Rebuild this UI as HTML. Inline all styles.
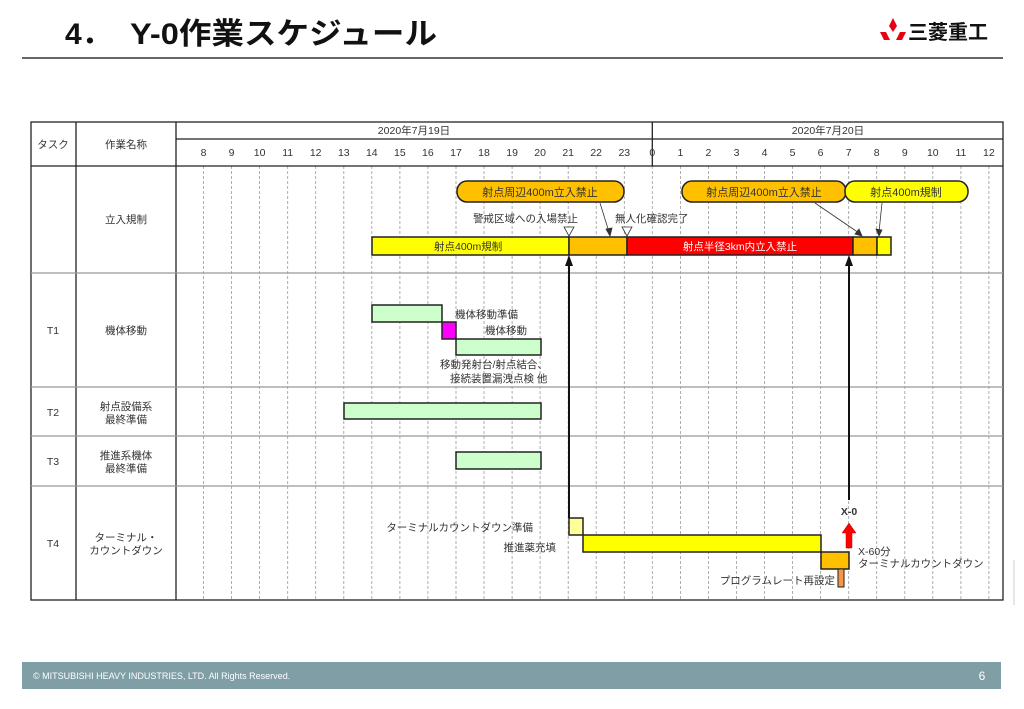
<!DOCTYPE html>
<html><head><meta charset="utf-8"><style>
html,body{margin:0;padding:0;background:#fff;}
svg{display:block;font-family:"Liberation Sans","Noto Sans CJK JP",sans-serif;}
</style></head><body>
<svg width="1024" height="709" viewBox="0 0 1024 709" xmlns="http://www.w3.org/2000/svg">
<text x="65" y="44" font-size="30" font-weight="bold" fill="#111">4．</text>
<text x="130" y="44" font-size="30" font-weight="bold" fill="#111" textLength="307" lengthAdjust="spacingAndGlyphs">Y-0作業スケジュール</text>
<g fill="#e60012"><polygon points="893,18 889,26 893,32 897,26"/><polygon points="886,32 880,32 884,40 890,40"/><polygon points="900,32 906,32 902,40 896,40"/></g>
<text x="908" y="39" font-size="20" font-weight="bold" fill="#111">三菱重工</text>
<line x1="22" y1="58" x2="1003" y2="58" stroke="#333" stroke-width="1.5"/>

<g stroke="#999" stroke-width="0.8" stroke-dasharray="3,2">
<line x1="203.5" y1="166" x2="203.5" y2="600"/><line x1="231.6" y1="166" x2="231.6" y2="600"/><line x1="259.6" y1="166" x2="259.6" y2="600"/><line x1="287.7" y1="166" x2="287.7" y2="600"/><line x1="315.7" y1="166" x2="315.7" y2="600"/><line x1="343.8" y1="166" x2="343.8" y2="600"/><line x1="371.8" y1="166" x2="371.8" y2="600"/><line x1="399.9" y1="166" x2="399.9" y2="600"/><line x1="427.9" y1="166" x2="427.9" y2="600"/><line x1="456" y1="166" x2="456" y2="600"/><line x1="484" y1="166" x2="484" y2="600"/><line x1="512.1" y1="166" x2="512.1" y2="600"/><line x1="540.1" y1="166" x2="540.1" y2="600"/><line x1="568.2" y1="166" x2="568.2" y2="600"/><line x1="596.2" y1="166" x2="596.2" y2="600"/><line x1="624.3" y1="166" x2="624.3" y2="600"/><line x1="652.3" y1="166" x2="652.3" y2="600"/><line x1="680.4" y1="166" x2="680.4" y2="600"/><line x1="708.4" y1="166" x2="708.4" y2="600"/><line x1="736.5" y1="166" x2="736.5" y2="600"/><line x1="764.5" y1="166" x2="764.5" y2="600"/><line x1="792.6" y1="166" x2="792.6" y2="600"/><line x1="820.6" y1="166" x2="820.6" y2="600"/><line x1="848.7" y1="166" x2="848.7" y2="600"/><line x1="876.7" y1="166" x2="876.7" y2="600"/><line x1="904.8" y1="166" x2="904.8" y2="600"/><line x1="932.8" y1="166" x2="932.8" y2="600"/><line x1="960.9" y1="166" x2="960.9" y2="600"/><line x1="988.9" y1="166" x2="988.9" y2="600"/>
</g>

<g stroke="#222" stroke-width="1.3" fill="none">
<rect x="31" y="122" width="972" height="478"/>
<line x1="76" y1="122" x2="76" y2="600"/><line x1="176" y1="122" x2="176" y2="600"/>
<line x1="176" y1="139" x2="1003" y2="139"/><line x1="652.3" y1="122" x2="652.3" y2="166"/>
<line x1="31" y1="166" x2="1003" y2="166"/>
</g>
<g stroke="#999" stroke-width="1.3">
<line x1="31" y1="273" x2="1003" y2="273"/><line x1="31" y1="387" x2="1003" y2="387"/><line x1="31" y1="436" x2="1003" y2="436"/><line x1="31" y1="486" x2="1003" y2="486"/>
</g>

<g font-size="10.5" fill="#333" text-anchor="middle">
<text x="53" y="148">タスク</text><text x="126" y="148">作業名称</text>
<text x="414" y="134">2020年7月19日</text><text x="828" y="134">2020年7月20日</text>
<text x="203.5" y="156">8</text><text x="231.6" y="156">9</text><text x="259.6" y="156">10</text><text x="287.7" y="156">11</text><text x="315.7" y="156">12</text><text x="343.8" y="156">13</text><text x="371.8" y="156">14</text><text x="399.9" y="156">15</text><text x="427.9" y="156">16</text><text x="456" y="156">17</text><text x="484" y="156">18</text><text x="512.1" y="156">19</text><text x="540.1" y="156">20</text><text x="568.2" y="156">21</text><text x="596.2" y="156">22</text><text x="624.3" y="156">23</text><text x="652.3" y="156">0</text><text x="680.4" y="156">1</text><text x="708.4" y="156">2</text><text x="736.5" y="156">3</text><text x="764.5" y="156">4</text><text x="792.6" y="156">5</text><text x="820.6" y="156">6</text><text x="848.7" y="156">7</text><text x="876.7" y="156">8</text><text x="904.8" y="156">9</text><text x="932.8" y="156">10</text><text x="960.9" y="156">11</text><text x="988.9" y="156">12</text>
<text x="126" y="223">立入規制</text>
<text x="53" y="334">T1</text><text x="126" y="334">機体移動</text>
<text x="53" y="416">T2</text><text x="126" y="410">射点設備系</text><text x="126" y="423">最終準備</text>
<text x="53" y="465">T3</text><text x="126" y="459">推進系機体</text><text x="126" y="472">最終準備</text>
<text x="53" y="547">T4</text><text x="126" y="541">ターミナル・</text><text x="126" y="554">カウントダウン</text>
</g>

<g stroke="#222" stroke-width="1.5">
<rect x="372" y="237" width="197" height="18" fill="#ffff00"/>
<rect x="569" y="237" width="58" height="18" fill="#ffc000"/>
<rect x="627" y="237" width="226" height="18" fill="#ff0000"/>
<rect x="853" y="237" width="24" height="18" fill="#ffc000"/>
<rect x="877" y="237" width="14" height="18" fill="#ffff00"/>
<rect x="372" y="305" width="70" height="17" fill="#ccffcc"/>
<rect x="442" y="322" width="14" height="17" fill="#ff00ff"/>
<rect x="456" y="339" width="85" height="16" fill="#ccffcc"/>
<rect x="344" y="403" width="197" height="16" fill="#ccffcc"/>
<rect x="456" y="452" width="85" height="17" fill="#ccffcc"/>
<rect x="569" y="518" width="14" height="17" fill="#ffff99"/>
<rect x="583" y="535" width="238" height="17" fill="#ffff00"/>
<rect x="821" y="552" width="28" height="17" fill="#ffc000"/>
<rect x="838" y="569" width="6" height="18" fill="#f79646" stroke-width="1"/>
</g>
<g font-size="10.5" fill="#333">
<text x="434" y="250">射点400m規制</text>
<text x="740" y="250" fill="#fff" text-anchor="middle">射点半径3km内立入禁止</text>
<text x="455" y="318">機体移動準備</text>
<text x="485" y="334">機体移動</text>
<text x="440" y="368">移動発射台/射点結合、</text>
<text x="450" y="382">接続装置漏洩点検 他</text>
<text x="533" y="531" text-anchor="end">ターミナルカウントダウン準備</text>
<text x="556" y="551" text-anchor="end">推進薬充填</text>
<text x="835" y="584" text-anchor="end">プログラムレート再設定</text>
<text x="858" y="555">X-60分</text>
<text x="858" y="567">ターミナルカウントダウン</text>
<text x="849" y="515" text-anchor="middle" font-weight="bold">X-0</text>
<text x="578" y="222" text-anchor="end">警戒区域への入場禁止</text>
<text x="615" y="222">無人化確認完了</text>
</g>

<g stroke="#222" stroke-width="1.5">
<rect x="457" y="181" width="167" height="21" rx="10" fill="#ffc000"/>
<rect x="682" y="181" width="164" height="21" rx="10" fill="#ffc000"/>
<rect x="845" y="181" width="123" height="21" rx="10" fill="#ffff00"/>
</g>
<g font-size="11" fill="#333" text-anchor="middle">
<text x="540" y="196">射点周辺400m立入禁止</text>
<text x="764" y="196">射点周辺400m立入禁止</text>
<text x="906" y="196">射点400m規制</text>
</g>
<g stroke="#333" stroke-width="0.8" fill="#333">
<line x1="600" y1="203" x2="609" y2="232"/><polygon points="610,236 606,229 612,228"/>
<line x1="815" y1="203" x2="859" y2="233"/><polygon points="862,236 855,234 859,229"/>
<line x1="882" y1="203" x2="879" y2="232"/><polygon points="879,236 876,229 882,230"/>
</g>
<g fill="#fff" stroke="#333" stroke-width="0.8">
<polygon points="564,227 574,227 569,236"/><polygon points="622,227 632,227 627,236"/>
</g>
<g stroke="#111" stroke-width="2">
<line x1="569" y1="518" x2="569" y2="262"/><line x1="849" y1="500" x2="849" y2="262"/>
</g>
<g fill="#111"><polygon points="569,255 565,266 573,266"/><polygon points="849,255 845,266 853,266"/></g>
<polygon points="849,523 842,533 846,533 846,548 852,548 852,533 856,533" fill="#ff0000" stroke="#c00" stroke-width="0.5"/>

<rect x="22" y="662" width="979" height="27" fill="#7f9ea6"/>
<text x="33" y="679" font-size="9" fill="#fff">© MITSUBISHI HEAVY INDUSTRIES, LTD.  All Rights Reserved.</text>
<text x="982" y="680" font-size="12" fill="#fff" text-anchor="middle">6</text>
<line x1="1014" y1="560" x2="1014" y2="605" stroke="#ccc"/>
</svg>
</body></html>
